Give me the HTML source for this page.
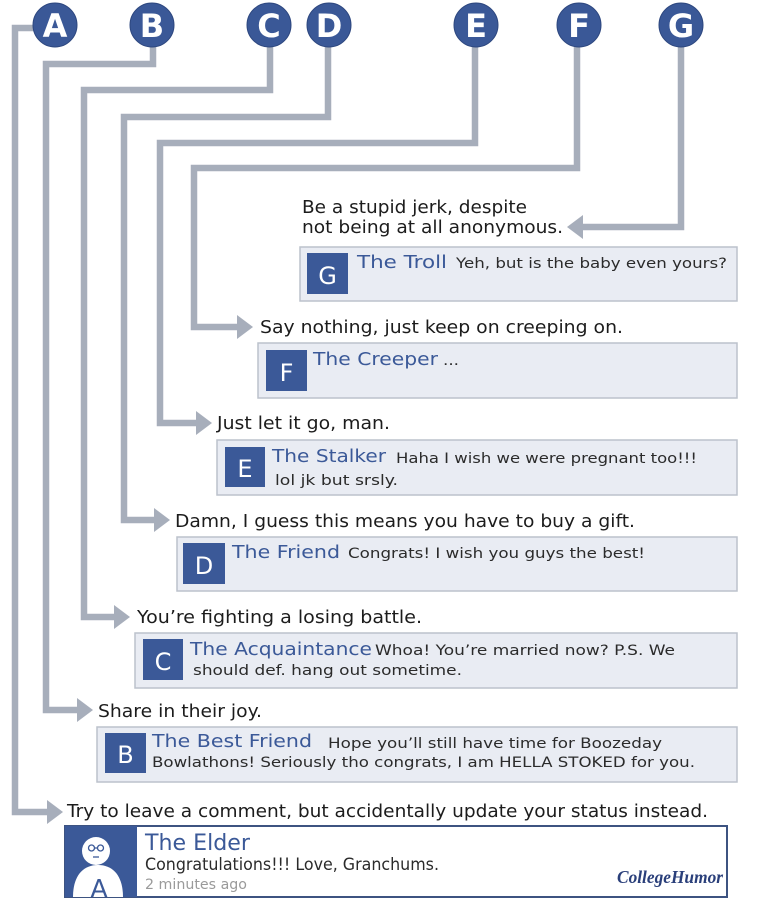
<!DOCTYPE html>
<html>
<head>
<meta charset="utf-8">
<style>
  html, body { margin:0; padding:0; background:#ffffff; }
  svg { display:block; }
  text { font-family: "DejaVu Sans", "Liberation Sans", sans-serif; }
</style>
</head>
<body>
<svg width="760" height="917" viewBox="0 0 760 917" xmlns="http://www.w3.org/2000/svg">
  <rect x="0" y="0" width="760" height="917" fill="#ffffff"/>

  <!-- connectors -->
  <g fill="none" stroke="#a7aebb" stroke-width="6.5" stroke-linejoin="miter">
    <polyline points="34,28 15,28 15,812 50,812"/>
    <polyline points="153,46 153,64 46,64 46,710 80,710"/>
    <polyline points="270,46 270,90 84,90 84,617 117,617"/>
    <polyline points="328,46 328,117 124,117 124,520 157,520"/>
    <polyline points="475,46 475,143 160,143 160,423 199,423"/>
    <polyline points="577,46 577,168 194,168 194,327 240,327"/>
    <polyline points="681,46 681,227 580,227"/>
  </g>
  <g fill="#a7aebb">
    <polygon points="47,800 63,812 47,824"/>
    <polygon points="77,698 93,710 77,722"/>
    <polygon points="114,605 130,617 114,629"/>
    <polygon points="154,508 170,520 154,532"/>
    <polygon points="196,411 212,423 196,435"/>
    <polygon points="237,315 253,327 237,339"/>
    <polygon points="583,215 567,227 583,239"/>
  </g>

  <!-- circles -->
  <g fill="#3a5897" stroke="#2e4880" stroke-width="1">
    <circle cx="55" cy="25" r="22"/>
    <circle cx="152" cy="25" r="22"/>
    <circle cx="269" cy="25" r="22"/>
    <circle cx="329" cy="25" r="22"/>
    <circle cx="476" cy="25" r="22"/>
    <circle cx="579" cy="25" r="22"/>
    <circle cx="681" cy="25" r="22"/>
  </g>
  <g fill="#ffffff" font-size="32" font-weight="bold" text-anchor="middle">
    <text x="55" y="37">A</text>
    <text x="152" y="37">B</text>
    <text x="269" y="37">C</text>
    <text x="329" y="37">D</text>
    <text x="476" y="37">E</text>
    <text x="579" y="37">F</text>
    <text x="681" y="37">G</text>
  </g>

  <!-- labels -->
  <g fill="#1c1c1c" font-size="18">
    <text x="302" y="213" textLength="225" lengthAdjust="spacingAndGlyphs">Be a stupid jerk, despite</text>
    <text x="302" y="233" textLength="261" lengthAdjust="spacingAndGlyphs">not being at all anonymous.</text>
    <text x="260" y="333" textLength="363" lengthAdjust="spacingAndGlyphs">Say nothing, just keep on creeping on.</text>
    <text x="217" y="429" textLength="173" lengthAdjust="spacingAndGlyphs">Just let it go, man.</text>
    <text x="175" y="527" textLength="460" lengthAdjust="spacingAndGlyphs">Damn, I guess this means you have to buy a gift.</text>
    <text x="137" y="623" textLength="285" lengthAdjust="spacingAndGlyphs">You’re fighting a losing battle.</text>
    <text x="98" y="717" textLength="164" lengthAdjust="spacingAndGlyphs">Share in their joy.</text>
    <text x="67" y="817" textLength="641" lengthAdjust="spacingAndGlyphs">Try to leave a comment, but accidentally update your status instead.</text>
  </g>

  <!-- comment boxes -->
  <g fill="#e9ecf3" stroke="#bcc2cc" stroke-width="1.5">
    <rect x="300" y="247" width="437" height="54"/>
    <rect x="258" y="343" width="479" height="55"/>
    <rect x="217" y="440" width="520" height="55"/>
    <rect x="177" y="537" width="560" height="54"/>
    <rect x="135" y="633" width="602" height="55"/>
    <rect x="97" y="727" width="640" height="55"/>
  </g>
  <g fill="#3b5998">
    <rect x="307" y="253" width="41" height="41"/>
    <rect x="266" y="350" width="41" height="41"/>
    <rect x="225" y="447" width="40" height="40"/>
    <rect x="183" y="543" width="42" height="41"/>
    <rect x="143" y="639" width="40" height="41"/>
    <rect x="105" y="733" width="41" height="40"/>
  </g>
  <g fill="#ffffff" font-size="24" text-anchor="middle">
    <text x="327.5" y="284">G</text>
    <text x="286.5" y="381">F</text>
    <text x="245" y="477">E</text>
    <text x="204" y="574">D</text>
    <text x="163" y="670">C</text>
    <text x="125.5" y="763">B</text>
  </g>

  <!-- names -->
  <g fill="#3b5998" font-size="18">
    <text x="357" y="268" textLength="90" lengthAdjust="spacingAndGlyphs">The Troll</text>
    <text x="313" y="365" textLength="125" lengthAdjust="spacingAndGlyphs">The Creeper</text>
    <text x="272" y="462" textLength="114" lengthAdjust="spacingAndGlyphs">The Stalker</text>
    <text x="232" y="558" textLength="108" lengthAdjust="spacingAndGlyphs">The Friend</text>
    <text x="190" y="655" textLength="182" lengthAdjust="spacingAndGlyphs">The Acquaintance</text>
    <text x="152" y="747" textLength="160" lengthAdjust="spacingAndGlyphs">The Best Friend</text>
  </g>

  <!-- comment texts -->
  <g fill="#2b2b2b" font-size="14.5">
    <text x="456" y="268" textLength="271" lengthAdjust="spacingAndGlyphs">Yeh, but is the baby even yours?</text>
    <text x="443" y="365" textLength="16" lengthAdjust="spacingAndGlyphs">...</text>
    <text x="396" y="463" textLength="301" lengthAdjust="spacingAndGlyphs">Haha I wish we were pregnant too!!!</text>
    <text x="275" y="485" textLength="123" lengthAdjust="spacingAndGlyphs">lol jk but srsly.</text>
    <text x="348" y="558" textLength="297" lengthAdjust="spacingAndGlyphs">Congrats! I wish you guys the best!</text>
    <text x="375" y="655" textLength="300" lengthAdjust="spacingAndGlyphs">Whoa! You’re married now? P.S. We</text>
    <text x="193" y="675" textLength="269" lengthAdjust="spacingAndGlyphs">should def. hang out sometime.</text>
    <text x="328" y="748" textLength="334" lengthAdjust="spacingAndGlyphs">Hope you’ll still have time for Boozeday</text>
    <text x="152" y="767" textLength="543" lengthAdjust="spacingAndGlyphs">Bowlathons! Seriously tho congrats, I am HELLA STOKED for you.</text>
  </g>

  <!-- The Elder box -->
  <rect x="65" y="826" width="662" height="71" fill="#ffffff" stroke="#3d5381" stroke-width="2"/>
  <rect x="65" y="826" width="72" height="71" fill="#3b5998"/>
  <!-- avatar silhouette -->
  <path d="M73,897 C73,877 82,865 98,865 C114,865 123,877 123,897 Z" fill="#ffffff"/>
  <circle cx="96" cy="851" r="14" fill="#ffffff"/>
  <g fill="none" stroke="#3b5998" stroke-width="1.3">
    <circle cx="91.5" cy="848" r="3"/>
    <circle cx="100.5" cy="848" r="3"/>
    <line x1="94.5" y1="848" x2="97.5" y2="848"/>
    <line x1="93" y1="857" x2="99" y2="857"/>
  </g>
  <text x="99" y="897" font-size="25" fill="#3b5998" text-anchor="middle">A</text>

  <text x="145" y="850" font-size="22" fill="#3b5998" textLength="105" lengthAdjust="spacingAndGlyphs">The Elder</text>
  <text x="145" y="870" font-size="17" fill="#2b2b2b" textLength="294" lengthAdjust="spacingAndGlyphs">Congratulations!!! Love, Granchums.</text>
  <text x="145" y="889" font-size="14" fill="#9a9a9a" textLength="102" lengthAdjust="spacingAndGlyphs">2 minutes ago</text>
  <text x="617" y="883" font-size="18" font-weight="bold" font-style="italic" fill="#2a3f7a" style="font-family:'Liberation Serif','DejaVu Serif',serif" textLength="106" lengthAdjust="spacingAndGlyphs">CollegeHumor</text>
</svg>
</body>
</html>
